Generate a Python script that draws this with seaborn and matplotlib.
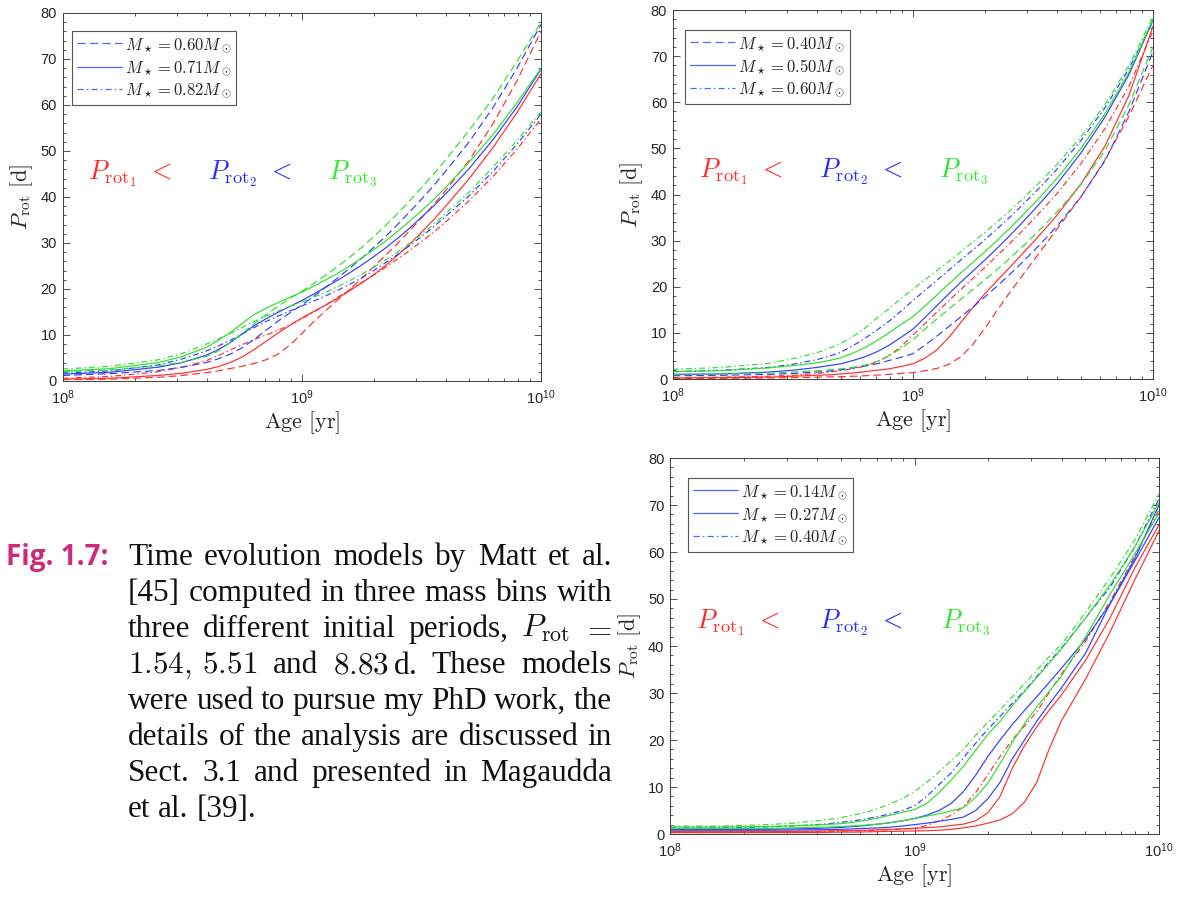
import numpy as np
import pandas as pd
import matplotlib
matplotlib.use("Agg")
import matplotlib.pyplot as plt
from matplotlib.lines import Line2D
from matplotlib.ticker import LogLocator, NullFormatter, MultipleLocator
import seaborn as sns

# ---------------- data ----------------
LOG_AGE = [8.0, 8.2, 8.4, 8.5,
           8.6, 8.65, 8.7, 8.75, 8.8, 8.85, 8.9, 8.95, 9.0, 9.05, 9.1, 9.15, 9.2,
           9.25, 9.3, 9.35, 9.4, 9.45, 9.5, 9.55, 9.6,
           9.7, 9.8, 9.9, 10.0]

# Panel 1: 0.60 (dashed), 0.71 (solid), 0.82 (dash-dot)
p1_060_red   = [0.3, 0.4, 0.8, 1.2, 1.8, 2.2, 2.7, 3.2, 3.8, 4.6, 5.8, 7.8, 10.3, 12.9, 15.3, 17.6, 19.9,
                22.3, 24.8, 27.3, 29.9, 32.6, 35.4, 38.3, 41.3, 48.0, 56.0, 65.3, 76.0]
p1_060_blue  = [1.2, 1.6, 2.3, 3.0, 4.0, 4.8, 5.8, 7.2, 9.0, 11.0, 13.0, 14.8, 16.5, 18.4, 20.4, 22.4, 24.5,
                26.7, 29.0, 31.4, 34.0, 36.7, 39.5, 42.4, 45.5, 52.0, 59.5, 68.0, 77.5]
p1_060_green = [2.0, 2.4, 3.3, 4.1, 5.3, 6.5, 8.3, 10.3, 12.4, 14.4, 16.2, 17.9, 19.5, 21.2, 23.0, 24.9, 26.9,
                29.0, 31.3, 33.8, 36.4, 39.1, 42.0, 44.9, 48.0, 54.5, 61.5, 69.5, 78.0]
p1_071_red   = [0.4, 0.6, 1.2, 1.7, 2.5, 3.1, 4.0, 5.2, 6.8, 8.6, 10.4, 12.1, 13.7, 15.1, 16.5, 18.0, 19.6,
                21.3, 23.1, 25.1, 27.3, 29.7, 32.3, 35.0, 37.9, 44.0, 50.8, 58.4, 66.8]
p1_071_blue  = [1.5, 1.9, 3.0, 4.0, 5.6, 6.8, 8.3, 10.2, 12.0, 13.5, 14.9, 16.2, 17.5, 18.9, 20.4, 21.9, 23.5,
                25.2, 27.0, 28.9, 31.0, 33.2, 35.6, 38.0, 40.6, 46.2, 52.5, 59.6, 67.8]
p1_071_green = [2.2, 2.7, 4.0, 5.3, 7.3, 8.8, 10.5, 12.5, 14.4, 15.8, 17.0, 18.2, 19.3, 20.6, 22.0, 23.4, 25.0,
                26.7, 28.5, 30.4, 32.5, 34.7, 37.0, 39.4, 42.0, 47.6, 53.6, 60.5, 68.0]
p1_082_red   = [0.6, 1.0, 2.0, 3.0, 4.4, 5.5, 6.7, 7.9, 9.0, 10.0, 11.0, 12.2, 13.5, 15.0, 16.5, 18.2, 19.8,
                21.4, 23.0, 24.7, 26.5, 28.3, 30.3, 32.3, 34.5, 39.2, 44.5, 50.4, 57.0]
p1_082_blue  = [1.7, 2.2, 3.5, 4.8, 6.5, 7.6, 8.8, 10.2, 11.6, 12.9, 14.1, 15.2, 16.3, 17.4, 18.5, 19.7, 21.0,
                22.4, 24.0, 25.7, 27.5, 29.4, 31.4, 33.5, 35.7, 40.3, 45.6, 51.5, 58.0]
p1_082_green = [2.6, 3.2, 4.6, 6.0, 8.0, 9.1, 10.3, 11.6, 12.9, 14.1, 15.2, 16.2, 17.2, 18.2, 19.3, 20.5, 21.8,
                23.2, 24.7, 26.3, 28.0, 29.9, 31.9, 34.0, 36.3, 41.1, 46.5, 52.3, 58.5]

# Panel 2: 0.40 (dashed), 0.50 (solid), 0.60 (dash-dot)
p2_040_red   = [0.1, 0.15, 0.2, 0.3, 0.4, 0.45, 0.5, 0.6, 0.7, 0.85, 1.0, 1.2, 1.4, 1.8, 2.3, 3.2, 4.8,
                7.5, 11.0, 14.8, 18.5, 22.0, 25.5, 29.0, 32.5, 39.5, 47.5, 57.0, 68.0]
p2_040_blue  = [0.7, 0.8, 1.0, 1.2, 1.5, 1.7, 2.0, 2.4, 2.8, 3.3, 4.0, 4.7, 5.5, 7.3, 9.3, 11.4, 13.5,
                15.6, 17.8, 20.1, 22.5, 25.0, 27.6, 30.3, 33.1, 39.5, 47.3, 58.0, 71.0]
p2_040_green = [1.0, 1.1, 1.3, 1.5, 1.8, 2.0, 2.2, 2.5, 3.0, 3.8, 5.0, 6.6, 8.5, 10.8, 13.0, 15.2, 17.3,
                19.4, 21.5, 23.7, 26.0, 28.4, 30.9, 33.5, 36.2, 42.2, 49.5, 59.5, 72.0]
p2_050_red   = [0.2, 0.3, 0.4, 0.6, 0.8, 0.9, 1.1, 1.3, 1.6, 1.9, 2.2, 2.7, 3.3, 4.5, 6.3, 9.0, 12.3,
                15.5, 18.5, 21.3, 24.0, 26.8, 29.6, 32.5, 35.5, 42.3, 50.5, 61.5, 76.5]
p2_050_blue  = [1.0, 1.1, 1.5, 1.9, 2.5, 2.9, 3.3, 4.0, 4.8, 5.9, 7.3, 9.0, 10.8, 13.3, 15.9, 18.5, 21.0,
                23.4, 25.8, 28.3, 30.9, 33.6, 36.4, 39.3, 42.3, 49.0, 56.8, 66.0, 77.8]
p2_050_green = [1.6, 1.8, 2.4, 2.9, 3.5, 4.0, 4.6, 5.6, 6.8, 8.3, 10.0, 11.8, 13.5, 15.8, 18.2, 20.6, 23.0,
                25.3, 27.6, 30.0, 32.5, 35.1, 37.8, 40.6, 43.5, 50.0, 57.5, 66.5, 78.0]
p2_060_red   = [0.3, 0.4, 0.6, 0.8, 1.2, 1.5, 1.8, 2.2, 2.8, 3.7, 5.0, 7.0, 9.5, 12.0, 14.5, 17.0, 19.4,
                21.8, 24.2, 26.7, 29.2, 31.8, 34.5, 37.3, 40.2, 46.7, 54.3, 63.5, 75.5]
p2_060_blue  = [1.6, 1.9, 2.5, 3.2, 4.2, 4.9, 5.8, 7.2, 8.8, 10.6, 12.5, 14.7, 17.0, 19.2, 21.4, 23.6, 25.8,
                28.0, 30.2, 32.5, 34.9, 37.4, 40.0, 42.7, 45.5, 51.7, 58.8, 67.3, 77.5]
p2_060_green = [2.1, 2.5, 3.4, 4.4, 5.7, 6.6, 7.7, 9.2, 11.0, 13.2, 15.2, 17.4, 19.5, 21.5, 23.5, 25.5, 27.6,
                29.7, 31.8, 34.0, 36.3, 38.7, 41.2, 43.8, 46.5, 52.5, 59.5, 68.0, 78.5]

# Panel 3: 0.14 (solid), 0.27 (solid), 0.40 (dash-dot)
p3_014_red   = [0.3, 0.3, 0.3, 0.3, 0.3, 0.35, 0.4, 0.4, 0.45, 0.5, 0.55, 0.6, 0.65, 0.7, 0.8, 1.0, 1.3,
                1.7, 2.3, 3.0, 4.3, 6.8, 11.0, 18.0, 24.0, 33.0, 43.0, 54.0, 64.5]
p3_014_blue  = [0.8, 0.8, 0.8, 0.85, 0.9, 0.95, 1.0, 1.1, 1.2, 1.3, 1.45, 1.7, 2.0, 2.3, 2.7, 3.1, 3.6,
                5.0, 7.5, 11.0, 16.0, 20.0, 24.0, 27.6, 31.0, 38.5, 49.0, 58.0, 67.3]
p3_014_green = [1.2, 1.2, 1.2, 1.3, 1.4, 1.5, 1.6, 1.75, 1.9, 2.1, 2.4, 2.8, 3.3, 3.8, 4.3, 4.9, 5.6,
                7.8, 10.8, 15.0, 19.5, 23.5, 27.0, 30.3, 33.5, 42.0, 51.0, 59.5, 68.3]
p3_027_red   = [0.5, 0.5, 0.5, 0.55, 0.6, 0.65, 0.7, 0.75, 0.8, 0.9, 1.0, 1.1, 1.2, 1.35, 1.5, 1.8, 2.1,
                2.8, 4.5, 8.0, 14.0, 18.8, 22.8, 26.3, 29.5, 37.0, 46.0, 56.5, 65.8]
p3_027_blue  = [1.0, 1.0, 1.0, 1.1, 1.2, 1.3, 1.4, 1.6, 1.8, 2.1, 2.4, 2.8, 3.3, 4.0, 5.0, 6.5, 9.0,
                12.5, 16.5, 20.0, 23.3, 26.3, 29.2, 32.2, 35.2, 41.5, 49.0, 58.5, 70.0]
p3_027_green = [1.5, 1.5, 1.6, 1.75, 1.9, 2.05, 2.2, 2.5, 2.9, 3.4, 4.0, 4.6, 5.2, 6.5, 8.8, 11.5, 14.4,
                17.8, 21.2, 24.0, 27.3, 30.3, 33.3, 36.3, 39.3, 46.0, 53.0, 61.0, 70.5]
p3_040_red   = [0.3, 0.3, 0.4, 0.45, 0.5, 0.55, 0.6, 0.65, 0.7, 0.8, 0.9, 1.05, 1.2, 1.8, 2.8, 4.0, 5.8,
                8.8, 12.6, 16.5, 20.0, 23.0, 26.0, 30.0, 34.0, 41.0, 49.5, 59.0, 69.0]
p3_040_blue  = [1.3, 1.3, 1.5, 1.7, 2.0, 2.2, 2.5, 2.8, 3.2, 3.7, 4.3, 5.0, 6.0, 8.0, 10.5, 13.0, 16.2,
                19.3, 22.3, 25.0, 27.8, 30.5, 33.5, 36.6, 39.5, 46.0, 52.5, 61.0, 71.3]
p3_040_green = [1.7, 1.7, 2.0, 2.3, 2.8, 3.1, 3.5, 4.0, 4.6, 5.4, 6.4, 7.5, 9.0, 11.0, 13.2, 15.6, 18.0,
                21.0, 23.8, 26.4, 29.2, 32.0, 34.8, 37.7, 40.3, 47.2, 54.5, 62.5, 72.3]

P1_MASSES = ["0.60", "0.71", "0.82"]
P2_MASSES = ["0.40", "0.50", "0.60"]
P3_MASSES = ["0.14", "0.27", "0.40"]

CAPTION_LABEL = "Fig. 1.7:"
CAPTION_LINES = [
    ["Time", "evolution", "models", "by", "Matt", "et", "al."],
    ["[45]", "computed", "in", "three", "mass", "bins", "with"],
    ["three", "different", "initial", "periods,", r"$P_{\rm rot}$", r"$=$"],
    [r"$1.54,\,5.51$", "and", r"$8.83\,$d.", "These", "models"],
    ["were", "used", "to", "pursue", "my", "PhD", "work,", "the"],
    ["details", "of", "the", "analysis", "are", "discussed", "in"],
    ["Sect.", "3.1", "and", "presented", "in", "Magaudda"],
    ["et", "al.", "[39]."],
]

# ---------------- style ----------------
sns.set_style("ticks")
plt.rcParams["font.family"] = ["Liberation Sans", "DejaVu Sans"]
plt.rcParams["mathtext.fontset"] = "cm"

W, H = 1182, 897
fig = plt.figure(figsize=(W / 100, H / 100), dpi=100)

PALETTE = {"P1": "#ff2e2e", "P2": "#3040ff", "P3": "#2ee02e"}
TEXT_COL = {"P1": "#ff2a2a", "P2": "#2b2bff", "P3": "#2ee82e"}
LEG_COL = "#5566ff"
DASHED = (6.5, 3.5)
DASHDOT = (5.0, 2.5, 1.2, 2.5)


def build(curves):
    frames = []
    for mass, prot, vals in curves:
        frames.append(pd.DataFrame({"age": np.power(10.0, LOG_AGE), "P": vals,
                                    "prot": prot, "mass": mass}))
    return pd.concat(frames, ignore_index=True)


panels = [
    dict(rect=[62.5 / W, 1 - 381 / H, 478.5 / W, 368 / H],
         masses=P1_MASSES,
         curves=[("0.60", "P1", p1_060_red), ("0.60", "P2", p1_060_blue), ("0.60", "P3", p1_060_green),
                 ("0.71", "P1", p1_071_red), ("0.71", "P2", p1_071_blue), ("0.71", "P3", p1_071_green),
                 ("0.82", "P1", p1_082_red), ("0.82", "P2", p1_082_blue), ("0.82", "P3", p1_082_green)],
         dashes={"0.60": DASHED, "0.71": "", "0.82": DASHDOT},
         anchor=(0.019, 0.951)),
    dict(rect=[672.7 / W, 1 - 379 / H, 480.3 / W, 369 / H],
         masses=P2_MASSES,
         curves=[("0.40", "P1", p2_040_red), ("0.40", "P2", p2_040_blue), ("0.40", "P3", p2_040_green),
                 ("0.50", "P1", p2_050_red), ("0.50", "P2", p2_050_blue), ("0.50", "P3", p2_050_green),
                 ("0.60", "P1", p2_060_red), ("0.60", "P2", p2_060_blue), ("0.60", "P3", p2_060_green)],
         dashes={"0.40": DASHED, "0.50": "", "0.60": DASHDOT},
         anchor=(0.0256, 0.946)),
    dict(rect=[670 / W, 1 - 834 / H, 489 / W, 376 / H],
         masses=P3_MASSES,
         curves=[("0.14", "P1", p3_014_red), ("0.14", "P2", p3_014_blue), ("0.14", "P3", p3_014_green),
                 ("0.27", "P1", p3_027_red), ("0.27", "P2", p3_027_blue), ("0.27", "P3", p3_027_green),
                 ("0.40", "P1", p3_040_red), ("0.40", "P2", p3_040_blue), ("0.40", "P3", p3_040_green)],
         dashes={"0.14": "", "0.27": "", "0.40": DASHDOT},
         anchor=(0.0368, 0.947)),
]

for pan in panels:
    ax = fig.add_axes(pan["rect"])
    ax.set_xscale("log")
    df = build(pan["curves"])
    sns.lineplot(data=df, x="age", y="P", hue="prot", style="mass",
                 palette=PALETTE, dashes=pan["dashes"], style_order=pan["masses"],
                 estimator=None, legend=False, linewidth=0.85, ax=ax)
    ax.set_xlim(1e8, 1e10)
    ax.set_ylim(0, 80)
    ax.set_yticks(range(0, 81, 10))
    ax.yaxis.set_minor_locator(MultipleLocator(2))
    ax.xaxis.set_major_locator(LogLocator(base=10, numticks=10))
    ax.xaxis.set_minor_locator(LogLocator(base=10, subs=np.arange(2, 10), numticks=30))
    ax.xaxis.set_minor_formatter(NullFormatter())
    ax.tick_params(which="both", direction="in", top=True, right=True,
                   color="#333333", width=0.6, labelsize=10.5, labelcolor="#262626")
    ax.tick_params(which="major", length=5)
    ax.tick_params(which="minor", length=2.5)
    ax.tick_params(axis="y", pad=4)
    ax.tick_params(axis="x", pad=5)
    for s in ax.spines.values():
        s.set_color("#404040")
        s.set_linewidth(0.7)
    ax.set_xlabel(r"$\mathrm{Age\ [yr]}$", fontsize=16, color="#262626", labelpad=2)
    ax.set_ylabel(r"$P_{\mathrm{rot}}\ [\mathrm{d}]$", fontsize=16, color="#262626", labelpad=4)

    # colour annotation
    ax.text(0.054, 0.547, r"$P_{\mathrm{rot}_1}\ <$", transform=ax.transAxes,
            color=TEXT_COL["P1"], fontsize=19, va="baseline", ha="left")
    ax.text(0.304, 0.547, r"$P_{\mathrm{rot}_2}\ <$", transform=ax.transAxes,
            color=TEXT_COL["P2"], fontsize=19, va="baseline", ha="left")
    ax.text(0.554, 0.547, r"$P_{\mathrm{rot}_3}$", transform=ax.transAxes,
            color=TEXT_COL["P3"], fontsize=19, va="baseline", ha="left")

    # legend (blue sample lines)
    handles, labels = [], []
    for m in pan["masses"]:
        d = pan["dashes"][m]
        h = Line2D([], [], color=LEG_COL, linewidth=0.9)
        if d != "":
            h.set_dashes(d)
        handles.append(h)
        labels.append(r"$M_\star = %s M_\odot$" % m)
    leg = ax.legend(handles, labels, loc="upper left", bbox_to_anchor=pan["anchor"],
                    borderaxespad=0, frameon=True, fancybox=False, framealpha=1,
                    edgecolor="#555555", fontsize=12, handlelength=2.7,
                    handletextpad=0.2, labelspacing=0.2, borderpad=0.3)
    leg.get_frame().set_linewidth(0.8)

# ---------------- caption ----------------
fig.text(6 / W, 1 - 565 / H, CAPTION_LABEL, fontsize=20, fontweight="bold",
         family=["Open Sans", "DejaVu Sans"], color="#cc2b7c", va="baseline", ha="left")

renderer = fig.canvas.get_renderer()
X0, X1 = 128.0, 612.0
CAP_SIZE = 22.5
for i, words in enumerate(CAPTION_LINES):
    yb = 565 + 36 * i
    texts = [fig.text(X0 / W, 1 - yb / H, w, fontsize=CAP_SIZE,
                      family=["Liberation Serif", "DejaVu Serif"], color="#111111",
                      va="baseline", ha="left") for w in words]
    widths = [t.get_window_extent(renderer).width for t in texts]
    last = i == len(CAPTION_LINES) - 1
    if not last and len(words) > 1:
        gap = (X1 - X0 - sum(widths)) / (len(words) - 1)
    else:
        gap = CAP_SIZE * 100 / 72 * 0.25
    x = X0
    for t, w in zip(texts, widths):
        t.set_x(x / W)
        x += w + gap

fig.savefig("out.png", dpi=100)
